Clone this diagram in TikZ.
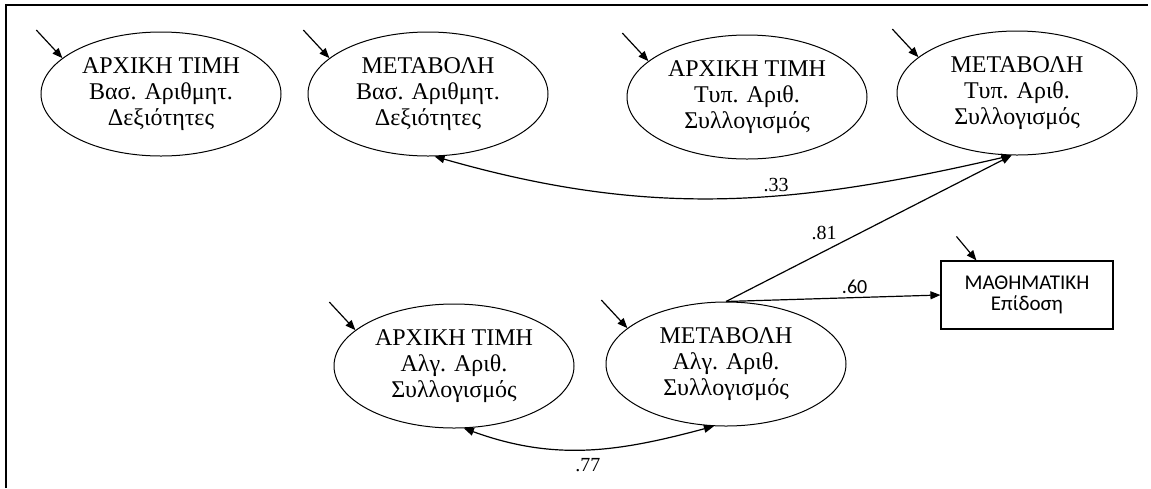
\documentclass[tikz,border=0pt]{standalone}
\usepackage{fontspec}
\setmainfont[Script=Greek]{Liberation Serif}
\newfontfamily\boxfont{Carlito}
\usepackage{tikz}
\usetikzlibrary{positioning,arrows.meta,calc,shapes.geometric}
\tikzset{
  latent/.style={ellipse,draw,line width=0.5pt,minimum width=120pt,minimum height=62pt,inner sep=0pt,align=center,font=\fontsize{12}{13}\selectfont},
  obs/.style={rectangle,draw,line width=0.6pt,minimum width=86pt,minimum height=34pt,align=center,font=\boxfont\fontsize{10.5}{10.5}\selectfont},
  arr/.style={-{Triangle[length=5pt,width=4pt]},line width=0.6pt},
  dbl/.style={{Triangle[length=5pt,width=4pt]}-{Triangle[length=5pt,width=4pt]},line width=0.6pt},
  err/.style={-{Triangle[length=5pt,width=4pt]},line width=0.6pt},
  coef/.style={font=\fontsize{10}{12}\selectfont,inner sep=1.5pt},
  frame/.style={line width=1pt}}

\begin{document}
\begin{tikzpicture}[x=0.5pt,y=-0.5pt]
\useasboundingbox (0,0) rectangle (1151,488);
\draw[frame] (6,488) -- (6,5) -- (1148,5);
% top row
\node[latent] (bi) at (161,94) {ΑΡΧΙΚΗ ΤΙΜΗ\\ Βασ. Αριθμητ.\\ Δεξιότητες};
\node[latent] (bc) at (428,94) {ΜΕΤΑΒΟΛΗ\\ Βασ. Αριθμητ.\\ Δεξιότητες};
\node[latent] (ti) at (747,97) {ΑΡΧΙΚΗ ΤΙΜΗ\\ Τυπ. Αριθ.\\ Συλλογισμός};
\node[latent] (tc) at (1017,93) {ΜΕΤΑΒΟΛΗ\\ Τυπ. Αριθ.\\ Συλλογισμός};
% bottom row
\node[latent] (ai) at (454,366) {ΑΡΧΙΚΗ ΤΙΜΗ\\ Αλγ. Αριθ.\\ Συλλογισμός};
\node[latent] (ac) at (726,364) {ΜΕΤΑΒΟΛΗ\\ Αλγ. Αριθ.\\ Συλλογισμός};
\node[obs] (perf) at (1027,295) {ΜΑΘΗΜΑΤΙΚΗ\\ Επίδοση};
% error terms
\foreach \n in {bi,bc,ti,tc,ai,ac}
  \draw[err] ($(\n.160)+(-26,-28)$) -- (\n.160);
\coordinate (perftop) at ($(perf.north west)+(36,0)$);
\draw[err] ($(perftop)+(-20,-24)$) -- (perftop);
% paths
\draw[arr] (ac.north) -- node[coef,above left,pos=0.4]{.81} (tc.265);
\draw[arr] (ac.north) -- node[coef,above,pos=0.6,font=\boxfont\fontsize{10}{12}\selectfont]{.60} (perf.west);
\draw[dbl] (bc.276) to[out=-16,in=193] node[coef,above,pos=0.6]{.33} (tc.265);
\draw[dbl] (ai.279) to[out=-20,in=195] node[coef,below=3pt,pos=0.5]{.77} (ac.259);
\end{tikzpicture}
\end{document}
